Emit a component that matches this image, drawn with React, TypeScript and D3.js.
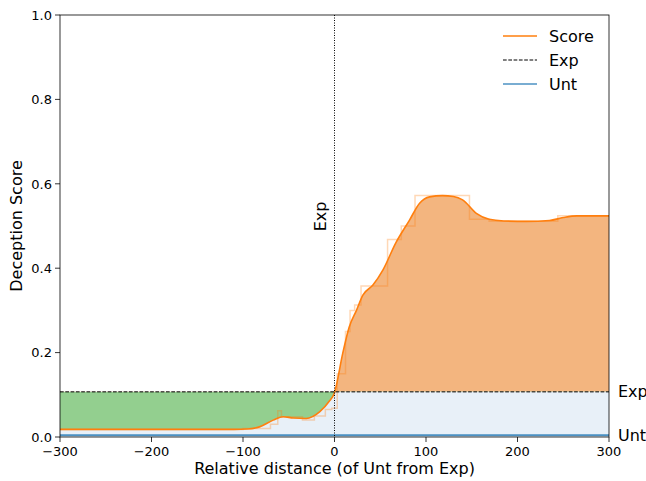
import React from "react";
import * as d3 from "d3";

// smoothed score curve (relative distance -> score)
const scoreX = [-300, -150, -110, -95, -82, -67, -56, -45, -31, -16, -6, 0, 9, 16, 24, 31, 42, 53, 67, 82, 93, 104, 118, 130, 140, 155, 169, 185, 210, 235, 250, 265, 300];
const scoreY = [0.018, 0.018, 0.018, 0.019, 0.024, 0.04, 0.048, 0.045, 0.044, 0.06, 0.084, 0.105, 0.198, 0.26, 0.3, 0.336, 0.36, 0.396, 0.46, 0.514, 0.554, 0.569, 0.572, 0.57, 0.562, 0.53, 0.516, 0.512, 0.511, 0.513, 0.52, 0.524, 0.524];

// raw binned score (drawn as faint steps)
const stepEdges = [-300, -100, -70, -62, -58, -35, -22, -10, -3, 3, 12, 17, 22, 29, 58, 73, 88, 147.5, 169, 244, 300];
const stepValues = [0.018, 0.02, 0.03, 0.062, 0.048, 0.04, 0.05, 0.065, 0.068, 0.15, 0.25, 0.3, 0.313, 0.358, 0.468, 0.5, 0.572, 0.516, 0.511, 0.524];

const expLevel = 0.107;
const untLevel = 0.004;

const xTicks = [-300, -200, -100, 0, 100, 200, 300];
const yTicks = [0, 0.2, 0.4, 0.6, 0.8, 1.0];

const legendItems = ["Score", "Exp", "Unt"];

const W = 646;
const H = 481;
const margin = { top: 15, right: 37, bottom: 44, left: 60 };
const font = "DejaVu Sans, sans-serif";
const labelSize = 16;
const tickSize = 13;

export default function App() {
  const x = d3.scaleLinear().domain([-300, 300]).range([margin.left, W - margin.right]);
  const y = d3.scaleLinear().domain([0, 1]).range([H - margin.bottom, margin.top]);

  const pts: [number, number][] = scoreX.map((d, i) => [d, scoreY[i]]);
  const steps: [number, number][] = stepEdges.map((e, i) => [e, stepValues[Math.min(i, stepValues.length - 1)]]);

  const line = d3.line<[number, number]>()
    .x(d => x(d[0]))
    .y(d => y(d[1]))
    .curve(d3.curveMonotoneX);

  const stepLine = d3.line<[number, number]>()
    .x(d => x(d[0]))
    .y(d => y(d[1]))
    .curve(d3.curveStepAfter);

  const area = d3.area<[number, number]>()
    .x(d => x(d[0]))
    .y0(y(expLevel))
    .y1(d => y(d[1]))
    .curve(d3.curveMonotoneX);

  const [x0, x1] = x.range();
  const [yb, yt] = y.range();
  const ye = y(expLevel);
  const yu = y(untLevel);

  return (
    <svg width={W} height={H} style={{ position: "absolute", left: 0, top: 0, background: "#fff" }} fontFamily={font}>
      <defs>
        <clipPath id="above">
          <rect x={x0} y={yt} width={x1 - x0} height={ye - yt} />
        </clipPath>
        <clipPath id="below">
          <rect x={x0} y={ye} width={x1 - x0} height={yb - ye} />
        </clipPath>
        <clipPath id="plot">
          <rect x={x0} y={yt} width={x1 - x0} height={yb - yt} />
        </clipPath>
      </defs>

      {/* band between Unt and Exp */}
      <rect x={x0} y={ye} width={x1 - x0} height={yu - ye} fill="#e8f0f8" />
      <path d={area(pts) ?? ""} fill="#f3b57f" clipPath="url(#above)" />
      <path d={area(pts) ?? ""} fill="#93cf8f" clipPath="url(#below)" />

      <g clipPath="url(#plot)">
        <path d={stepLine(steps) ?? ""} fill="none" stroke="#ff7f0e" strokeOpacity={0.3} strokeWidth={1.5} />
        <path d={line(pts) ?? ""} fill="none" stroke="#ff7f0e" strokeWidth={1.6} />
        <line x1={x0} x2={x1} y1={ye} y2={ye} stroke="#000" strokeWidth={1} strokeDasharray="3.7,1.6" />
        <line x1={x0} x2={x1} y1={yu} y2={yu} stroke="#1f77b4" strokeOpacity={0.8} strokeWidth={2} />
        <line x1={x(0)} x2={x(0)} y1={yt} y2={yb} stroke="#000" strokeWidth={1} strokeDasharray="1,1.5" />
      </g>

      <text transform={`translate(326,216.5) rotate(-90)`} textAnchor="middle" fontSize={labelSize}>Exp</text>

      {/* frame */}
      <rect x={x0} y={yt} width={x1 - x0} height={yb - yt} fill="none" stroke="#000" strokeWidth={0.8} />

      {/* x axis */}
      {xTicks.map(t => (
        <g key={"x" + t}>
          <line x1={x(t)} x2={x(t)} y1={yb} y2={yb + 5} stroke="#000" strokeWidth={0.8} />
          <text x={x(t)} y={yb + 18.5} textAnchor="middle" fontSize={tickSize}>{t < 0 ? "\u2212" + Math.abs(t) : t}</text>
        </g>
      ))}
      <text x={(x0 + x1) / 2} y={474} textAnchor="middle" fontSize={labelSize}>Relative distance (of Unt from Exp)</text>

      {/* y axis */}
      {yTicks.map(t => (
        <g key={"y" + t}>
          <line x1={x0 - 5} x2={x0} y1={y(t)} y2={y(t)} stroke="#000" strokeWidth={0.8} />
          <text x={x0 - 8} y={y(t) + 4.7} textAnchor="end" fontSize={tickSize}>{t.toFixed(1)}</text>
        </g>
      ))}
      <text transform={`translate(22,${(yt + yb) / 2}) rotate(-90)`} textAnchor="middle" fontSize={labelSize}>Deception Score</text>

      {/* right-side labels */}
      <text x={x1 + 9} y={ye + 5.5} fontSize={labelSize}>Exp</text>
      <text x={x1 + 9} y={yu + 5.5} fontSize={labelSize}>Unt</text>

      {/* legend */}
      {legendItems.map((name, i) => {
        const ly = 36 + i * 24;
        return (
          <g key={name}>
            {name === "Score" && <line x1={503} x2={537} y1={ly} y2={ly} stroke="#ff7f0e" strokeWidth={1.6} />}
            {name === "Exp" && <line x1={503} x2={537} y1={ly} y2={ly} stroke="#000" strokeWidth={1} strokeDasharray="3.7,1.6" />}
            {name === "Unt" && <line x1={503} x2={537} y1={ly} y2={ly} stroke="#1f77b4" strokeOpacity={0.6} strokeWidth={2} />}
            <text x={549} y={ly + 5.5} fontSize={labelSize}>{name}</text>
          </g>
        );
      })}
    </svg>
  );
}
